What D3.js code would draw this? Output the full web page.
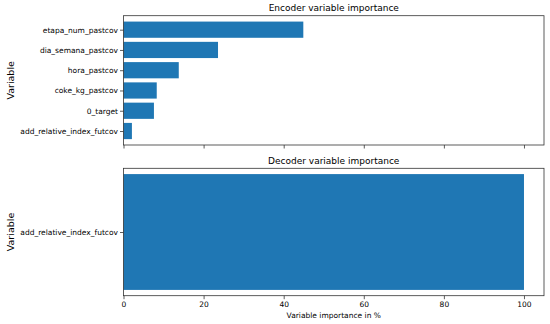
<!DOCTYPE html>
<html>
<head>
<meta charset="utf-8">
<script src="https://d3js.org/d3.v7.min.js"></script>
<style>
  body { margin: 0; background: #fff; }
  text { font-family: "DejaVu Sans", sans-serif; fill: #000; }
</style>
</head>
<body>
<div id="chart"></div>
<script>
var svgWidth = 550;
var svgHeight = 324;

// encoder importances (top panel), top to bottom
var encoderNames = ["etapa_num_pastcov", "dia_semana_pastcov", "hora_pastcov", "coke_kg_pastcov", "0_target", "add_relative_index_futcov"];
var encoderValues = [44.9, 23.6, 13.8, 8.3, 7.6, 2.1];

// decoder importances (bottom panel)
var decoderNames = ["add_relative_index_futcov"];
var decoderValues = [100];

var xTicks = [0, 20, 40, 60, 80, 100];

var left = 123.5, right = 544;

var svg = d3.select("#chart")
  .append("svg")
  .attr("width", svgWidth)
  .attr("height", svgHeight);

var x = d3.scaleLinear()
  .domain([0, 105])
  .range([left, right]);

function panel(top, bottom, names, values, title, showLabels) {
  var n = names.length;
  // bars span -0.4 .. n-0.6, plus 5% margin like matplotlib
  var lo = -0.4, hi = n - 1 + 0.4;
  var m = (hi - lo) * 0.05;
  var y = d3.scaleLinear()
    .domain([lo - m, hi + m])
    .range([top, bottom]);

  var g = svg.append("g");

  g.selectAll("rect.bar")
    .data(values)
    .enter()
    .append("rect")
    .attr("class", "bar")
    .attr("x", x(0))
    .attr("y", (d, i) => y(i - 0.4))
    .attr("width", d => x(d) - x(0))
    .attr("height", (d, i) => y(i + 0.4) - y(i - 0.4))
    .attr("fill", "#1f77b4");

  var xAxis = d3.axisBottom(x)
    .tickValues(xTicks)
    .tickSize(3.5)
    .tickPadding(2)
    .tickFormat(showLabels ? d3.format("d") : "");
  var ga = g.append("g")
    .attr("transform", `translate(0, ${bottom})`)
    .call(xAxis);
  ga.select(".domain").remove();
  ga.selectAll("text").attr("font-size", "7.5px").style("font-family", "DejaVu Sans");
  ga.selectAll("line").attr("stroke", "#333").attr("stroke-width", 0.8);

  var yAxis = d3.axisLeft(y)
    .tickValues(d3.range(n))
    .tickSize(3.5)
    .tickPadding(2)
    .tickFormat(i => names[i]);
  var gy = g.append("g")
    .attr("transform", `translate(${left}, 0)`)
    .call(yAxis);
  gy.select(".domain").remove();
  gy.selectAll("text").attr("font-size", "7.5px").style("font-family", "DejaVu Sans");
  gy.selectAll("line").attr("stroke", "#333").attr("stroke-width", 0.8);

  g.append("rect")
    .attr("x", left)
    .attr("y", top)
    .attr("width", right - left)
    .attr("height", bottom - top)
    .attr("fill", "none")
    .attr("stroke", "#333")
    .attr("stroke-width", 0.8);

  g.append("text")
    .attr("x", (left + right) / 2)
    .attr("y", top - 4.5)
    .attr("text-anchor", "middle")
    .attr("font-size", "9px")
    .text(title);

  g.append("text")
    .attr("transform", `translate(14, ${(top + bottom) / 2}) rotate(-90)`)
    .attr("text-anchor", "middle")
    .attr("font-size", "9.5px")
    .text("Variable");
}

panel(15.7, 145, encoderNames, encoderValues, "Encoder variable importance", false);
panel(168.3, 295.7, decoderNames, decoderValues, "Decoder variable importance", true);

svg.append("text")
  .attr("x", (left + right) / 2)
  .attr("y", 318)
  .attr("text-anchor", "middle")
  .attr("font-size", "7.5px")
  .text("Variable importance in %");
</script>
</body>
</html>
